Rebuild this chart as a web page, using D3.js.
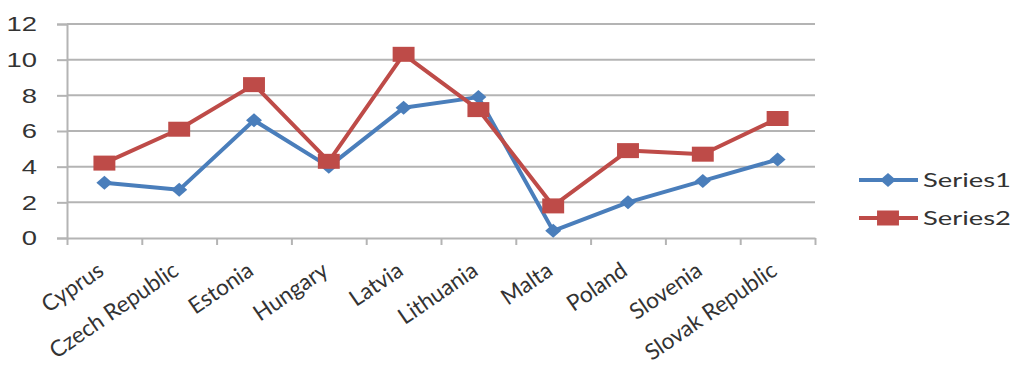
<!DOCTYPE html>
<html>
<head>
<meta charset="utf-8">
<script src="https://cdn.jsdelivr.net/npm/d3@7"></script>
<style>
  html, body { margin: 0; padding: 0; background: #fff; }
  svg { display: block; font-family: Lato, "Open Sans", sans-serif; }
</style>
</head>
<body>
<svg id="chart" width="1011" height="366"></svg>
<script>
// Chart data
const categories = ["Cyprus", "Czech Republic", "Estonia", "Hungary", "Latvia",
                    "Lithuania", "Malta", "Poland", "Slovenia", "Slovak Republic"];
const series1 = [3.1, 2.7, 6.6, 4.0, 7.3, 7.9, 0.4, 2.0, 3.2, 4.4];
const series2 = [4.2, 6.1, 8.6, 4.3, 10.3, 7.2, 1.8, 4.9, 4.7, 6.7];
const seriesNames = ["Series1", "Series2"];
const yTicks = [0, 2, 4, 6, 8, 10, 12];

const colors = ["#4a7ebb", "#be4b48"];
const SX = 1.37;            // horizontal stretch of the whole drawing
const textColor = "#333333";
const gridColor = "#b4b4b4";

const svg = d3.select("#chart");
const plot = { left: 67, right: 815, top: 24, bottom: 238 };

const x = d3.scaleBand().domain(categories).range([plot.left, plot.right]);
const xEdge = d3.scaleLinear().domain([0, categories.length]).range([plot.left, plot.right]);
const y = d3.scaleLinear().domain([0, 12]).range([plot.bottom, plot.top]);
const cx = c => x(c) + x.bandwidth() / 2;

// Horizontal gridlines
svg.append("g")
  .selectAll("line")
  .data(yTicks.filter(t => t > 0))
  .join("line")
  .attr("x1", plot.left).attr("x2", plot.right)
  .attr("y1", d => y(d)).attr("y2", d => y(d))
  .attr("stroke", gridColor).attr("stroke-width", 2);

// Y axis
const yAxis = svg.append("g")
  .attr("transform", `translate(${plot.left},0)`)
  .call(d3.axisLeft(y).tickValues(yTicks).tickSize(10).tickFormat(d3.format("d")));
yAxis.select(".domain").attr("stroke", gridColor).attr("stroke-width", 2);
yAxis.selectAll(".tick line").attr("stroke", gridColor).attr("stroke-width", 2);
yAxis.selectAll(".tick text")
  .attr("x", null)
  .attr("transform", `translate(-30,0) scale(${SX},1)`)
  .attr("text-anchor", "end")
  .attr("dy", "0.34em")
  .attr("fill", textColor)
  .style("font-size", "20px");

// X axis with ticks at category boundaries
const xAxis = svg.append("g")
  .attr("transform", `translate(0,${plot.bottom})`)
  .call(d3.axisBottom(xEdge).tickValues(d3.range(categories.length + 1))
    .tickSize(7).tickSizeOuter(0).tickFormat(""));
xAxis.select(".domain").attr("stroke", gridColor).attr("stroke-width", 2);
xAxis.selectAll(".tick line").attr("stroke", gridColor).attr("stroke-width", 2);

// Slanted category labels
svg.append("g")
  .selectAll("text")
  .data(categories)
  .join("text")
  .attr("transform", d => `translate(${cx(d) + 1},274) rotate(-34.5)`)
  .attr("text-anchor", "end")
  .attr("fill", textColor)
  .style("font-size", "22.5px")
  .text(d => d);

// Marker shapes
const markerPath = [
  "M0,-7 L8,0 L0,7 L-8,0 Z",                     // diamond
  "M-8,-7.5 L8,-7.5 L8,7.5 L-8,7.5 Z"            // square
];
const markerScale = [1, SX];

const line = d3.line().x(d => cx(d.c)).y(d => y(d.v));
[series1, series2].forEach((vals, i) => {
  const pts = vals.map((v, j) => ({ c: categories[j], v }));
  const g = svg.append("g");
  g.append("path")
    .datum(pts)
    .attr("d", line)
    .attr("fill", "none")
    .attr("stroke", colors[i])
    .attr("stroke-width", 4)
    .attr("stroke-linejoin", "round");
  g.selectAll("path.m")
    .data(pts)
    .join("path")
    .attr("class", "m")
    .attr("d", markerPath[i])
    .attr("transform", d => `translate(${cx(d.c)},${y(d.v)}) scale(${markerScale[i]},1)`)
    .attr("fill", colors[i]);
});

// Legend
const legend = svg.append("g");
seriesNames.forEach((name, i) => {
  const ly = 180 + i * 38;
  legend.append("line")
    .attr("x1", 859).attr("x2", 918).attr("y1", ly).attr("y2", ly)
    .attr("stroke", colors[i]).attr("stroke-width", 4);
  legend.append("path")
    .attr("d", markerPath[i])
    .attr("transform", `translate(888,${ly}) scale(${markerScale[i]},1)`)
    .attr("fill", colors[i]);
  legend.append("text")
    .attr("transform", `translate(923,${ly}) scale(${SX},1)`)
    .attr("dy", "0.35em")
    .attr("fill", textColor)
    .style("font-size", "20px")
    .text(name);
});
</script>
</body>
</html>
